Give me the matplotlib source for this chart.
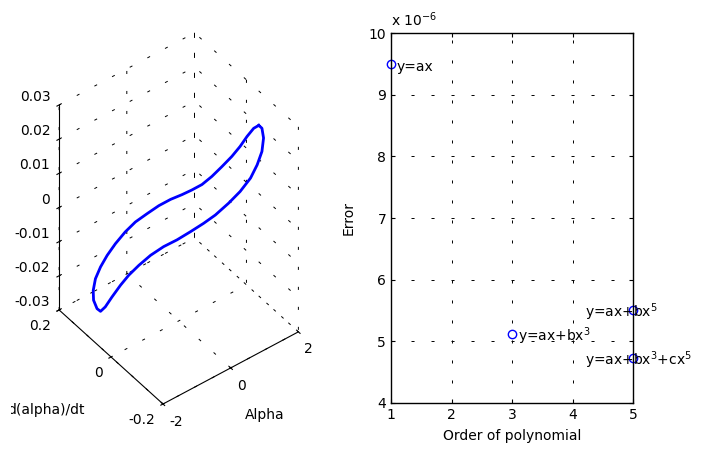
import numpy as np
import matplotlib
matplotlib.use('Agg')
import matplotlib.pyplot as plt
from matplotlib.transforms import Bbox
from mpl_toolkits.mplot3d import proj3d

plt.rcParams['font.family'] = 'DejaVu Sans'
plt.rcParams['font.size'] = 10
plt.rcParams['axes.unicode_minus'] = False
plt.rcParams['mathtext.default'] = 'regular'
plt.rcParams['grid.color'] = 'k'
plt.rcParams['grid.linewidth'] = 0.7
plt.rcParams['grid.linestyle'] = '--'
plt.rcParams['lines.dashed_pattern'] = [2.2, 12.2]
plt.rcParams['lines.scale_dashes'] = False

alpha = [1.82, 1.70, 1.55, 1.39, 1.20, 0.97, 0.74, 0.51, 0.28, 0.05, -0.21,
         -0.48, -0.75, -1.02, -1.25, -1.48, -1.67, -1.82, -1.94, -1.99, -1.98,
         -1.90, -1.82, -1.71, -1.56, -1.36, -1.17, -0.94, -0.67, -0.37, -0.06,
         0.25, 0.55, 0.82, 1.13, 1.39, 1.63, 1.78, 1.89, 1.93, 1.89, 1.82]
dalpha = [-0.071, -0.067, -0.061, -0.055, -0.048, -0.040, -0.031, -0.023, -0.014,
          -0.006, 0.004, 0.014, 0.024, 0.034, 0.043, 0.051, 0.058, 0.064, 0.068,
          0.070, 0.070, 0.067, 0.064, 0.060, 0.054, 0.047, 0.040, 0.031, 0.021,
          0.010, -0.001, -0.013, -0.024, -0.034, -0.045, -0.055, -0.064, -0.070,
          -0.074, -0.075, -0.074, -0.071]
ddalpha = [0.0225, 0.0220, 0.0200, 0.0175, 0.0151, 0.0128, 0.0105, 0.0088, 0.0078,
           0.0071, 0.0064, 0.0053, 0.0037, 0.0020, -0.0003, -0.0031, -0.0060,
           -0.0090, -0.0121, -0.0154, -0.0183, -0.0210, -0.0220, -0.0210, -0.0185,
           -0.0156, -0.0132, -0.0109, -0.0087, -0.0070, -0.0059, -0.0043, -0.0027,
           -0.0010, 0.0016, 0.0043, 0.0076, 0.0111, 0.0147, 0.0185, 0.0215, 0.0225]

alpha_ticks = [-2, 0, 2]
dalpha_ticks = [-0.2, 0, 0.2]
z_ticks = [-0.03, -0.02, -0.01, 0, 0.01, 0.02, 0.03]

# fit error for each polynomial model
order = [1, 3, 5, 5]
error = [9.49e-6, 5.12e-6, 5.51e-6, 4.73e-6]
models = ['y=ax', 'y=ax+bx$^3$', 'y=ax+bx$^5$', 'y=ax+bx$^3$+cx$^5$']
label_x = [1.1, 3.1, 4.2, 4.2]
label_y = [9.455e-6, 5.09e-6, 5.48e-6, 4.70e-6]

W, H = 712, 450
fig = plt.figure(figsize=(W / 100, H / 100), dpi=100)

#------ left: 3D curve ------
ax3 = fig.add_axes([0, 0, 360 / W, 360 / H], projection='3d')
ax3.set_proj_type('ortho')
ax3.view_init(elev=44, azim=-127.5)
ax3.set_box_aspect((1, 1, 1.67))
ax3.set_facecolor('none')
ax3.plot(alpha, dalpha, ddalpha, color='b', lw=2)
ax3.set_xlim(-2, 2)
ax3.set_ylim(-0.2, 0.2)
ax3.set_zlim(-0.03, 0.03)
ax3.set_xticks(alpha_ticks)
ax3.set_xticklabels(['%g' % v for v in alpha_ticks], va='center', ha='left')
ax3.set_yticks(dalpha_ticks)
ax3.set_yticklabels(['%g' % v for v in dalpha_ticks], va='center', ha='right')
ax3.set_zticks(z_ticks)
ax3.set_zticklabels(['%g' % v for v in z_ticks], va='bottom', ha='right')
ax3.tick_params(axis='x', pad=0)
ax3.tick_params(axis='y', pad=0)
ax3.tick_params(axis='z', pad=-3)
for a in (ax3.xaxis, ax3.yaxis, ax3.zaxis):
    a.set_pane_color((1, 1, 1, 0))
    a.line.set_color('k')
    a.line.set_linewidth(0.8)

# fit the projected box onto the place it has in the picture
def to_px(x, y, z):
    px, py, _ = proj3d.proj_transform(x, y, z, ax3.get_proj())
    return ax3.transData.transform((px, py))

fig.canvas.draw()
z_lo = to_px(-2, 0.2, -0.03)
z_hi = to_px(-2, 0.2, 0.03)
side = ax3.get_position().width * W * 205 / (z_hi[1] - z_lo[1])
ax3.set_position([0, 0, side / W, side / H])
fig.canvas.draw()
c = to_px(-2, -0.2, -0.03)
dx = 163 - c[0]
dy = (H - 404) - c[1]
ax3.set_position([dx / W, dy / H, side / W, side / H])

fig.text(265 / W, 1 - 415 / H, 'Alpha', ha='center', va='center')
lab = fig.text(7 / W, 1 - 410 / H, 'd(alpha)/dt', ha='left', va='center')
lab.set_clip_box(Bbox.from_extents(11, 0, W, H))
lab.set_clip_on(True)

#------ right: error vs order ------
ax = fig.add_axes([391 / W, 47 / H, 242 / W, 370 / H])
ax.plot(order, error, 'o', mfc='none', mec='b', ms=6, mew=1, clip_on=False)
for xt, yt, s in zip(label_x, label_y, models):
    ax.text(xt, yt, s, va='center', ha='left')
ax.set_xlim(1, 5)
ax.set_ylim(4e-6, 10e-6)
ax.set_xticks([1, 2, 3, 4, 5])
ax.set_yticks(np.arange(4, 11) * 1e-6)
ax.yaxis.set_major_formatter(plt.FuncFormatter(lambda v, p: '%g' % round(v * 1e6, 6)))
ax.text(0.0, 1.012, 'x 10$^{-6}$', transform=ax.transAxes, ha='left', va='bottom')
ax.grid(True)
ax.tick_params(direction='in', length=3, top=True, right=True)
for sp in ax.spines.values():
    sp.set_linewidth(1)
ax.set_xlabel('Order of polynomial', labelpad=5)
ax.set_ylabel('Error', labelpad=9)

fig.savefig('out.png', dpi=100)
